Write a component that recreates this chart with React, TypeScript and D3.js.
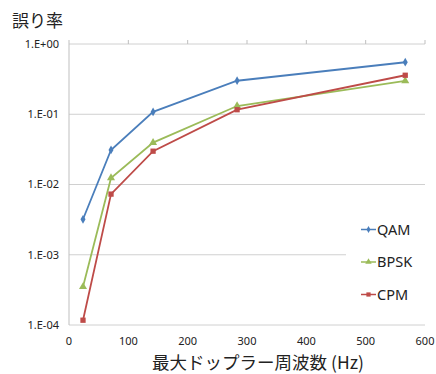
import React, { useEffect, useRef } from 'react';
import * as d3 from 'd3';

// max doppler frequency (Hz)
const dopplerHz = [23.6, 70.8, 141.7, 283.3, 566.7];
const seriesNames = ['QAM', 'BPSK', 'CPM'];
const qamErr = [3.2e-3, 0.031, 0.108, 0.30, 0.55];
const bpskErr = [3.5e-4, 0.0124, 0.0395, 0.131, 0.298];
const cpmErr = [1.17e-4, 7.3e-3, 0.0298, 0.116, 0.359];
const xTicks = [0, 100, 200, 300, 400, 500, 600];
const yTicks = [1e-4, 1e-3, 1e-2, 1e-1, 1];
const yTickLabels = ['1.E-04', '1.E-03', '1.E-02', '1.E-01', '1.E+00'];
const colors = ['#4A7EBB', '#9BBB59', '#BE4B48'];
const markers = [d3.symbolDiamond, d3.symbolTriangle, d3.symbolSquare];

export default function App() {
	const ref = useRef<SVGSVGElement>(null);

	useEffect(() => {
		const svg = d3.select(ref.current);
		svg.selectAll('*').remove();

		const margin = { top: 44, right: 11, bottom: 49, left: 69 };
		const width = 436 - margin.left - margin.right;
		const height = 374 - margin.top - margin.bottom;

		const x = d3.scaleLinear().domain([0, 600]).range([0, width]);
		const y = d3.scaleLog().domain([1e-4, 1]).range([height, 0]);

		const g = svg.append('g').attr('transform', `translate(${margin.left},${margin.top})`);

		// gridlines
		g.selectAll('.grid').data(yTicks).enter().append('line')
			.attr('x1', 0).attr('x2', width)
			.attr('y1', d => y(d)).attr('y2', d => y(d))
			.attr('stroke', '#D0D0D0').attr('stroke-width', 1);

		// left axis line
		g.append('line').attr('x1', 0).attr('x2', 0).attr('y1', 0).attr('y2', height)
			.attr('stroke', '#BFBFBF');

		// x ticks sit on the top line (axis crosses at 1.E+00)
		g.selectAll('.xtick').data(xTicks).enter().append('line')
			.attr('x1', d => x(d)).attr('x2', d => x(d))
			.attr('y1', -4).attr('y2', 0)
			.attr('stroke', '#BFBFBF');

		const tickFont = '"Noto Sans", "Open Sans", sans-serif';
		g.selectAll('.xlabel').data(xTicks).enter().append('text')
			.text(d => d)
			.attr('x', d => x(d)).attr('y', height + 20)
			.attr('text-anchor', 'middle')
			.attr('font-family', tickFont).attr('font-size', 11).attr('fill', '#222');

		g.selectAll('.ylabel').data(yTicks).enter().append('text')
			.text((d, i) => yTickLabels[i])
			.attr('x', -10).attr('y', d => y(d))
			.attr('dy', '0.35em')
			.attr('text-anchor', 'end')
			.attr('font-family', tickFont).attr('font-size', 11).attr('fill', '#222');

		const allSeries = [qamErr, bpskErr, cpmErr];
		const line = d3.line<number>().x((d, i) => x(dopplerHz[i])).y(d => y(d));

		allSeries.forEach((vals, s) => {
			g.append('path').datum(vals)
				.attr('d', line)
				.attr('fill', 'none')
				.attr('stroke', colors[s]).attr('stroke-width', 1.8);
			g.selectAll('.m' + s).data(vals).enter().append('path')
				.attr('d', d3.symbol().type(markers[s]).size(s === 0 ? 22 : 28)())
				.attr('transform', (d, i) => `translate(${x(dopplerHz[i])},${y(d)})`)
				.attr('fill', colors[s]);
		});

		// legend
		const legend = svg.append('g');
		legend.append('rect').attr('x', 346).attr('y', 214).attr('width', 80).attr('height', 96)
			.attr('fill', 'white');
		seriesNames.forEach((name, s) => {
			const ly = 229.5 + s * 32.5;
			legend.append('line').attr('x1', 361).attr('x2', 376).attr('y1', ly).attr('y2', ly)
				.attr('stroke', colors[s]).attr('stroke-width', 1.5);
			legend.append('path')
				.attr('d', d3.symbol().type(markers[s]).size(s === 0 ? 14 : 18)())
				.attr('transform', `translate(368.5,${ly})`)
				.attr('fill', colors[s]);
			legend.append('text').text(name)
				.attr('x', 377).attr('y', ly).attr('dy', '0.36em')
				.attr('font-family', tickFont).attr('font-size', 14.5).attr('fill', '#222');
		});

		const jpFont = '"Noto Sans CJK JP", sans-serif';
		svg.append('text').text('誤り率')
			.attr('x', 12).attr('y', 27)
			.attr('font-family', jpFont).attr('font-size', 17).attr('fill', '#222');
		svg.append('text').text('最大ドップラー周波数 (Hz)')
			.attr('x', 258).attr('y', 369)
			.attr('text-anchor', 'middle')
			.attr('font-family', jpFont).attr('font-size', 17.5).attr('fill', '#222');
	}, []);

	return (
		<svg ref={ref} width={436} height={374} style={{ position: 'absolute', left: 0, top: 0, background: 'white' }} />
	);
}
